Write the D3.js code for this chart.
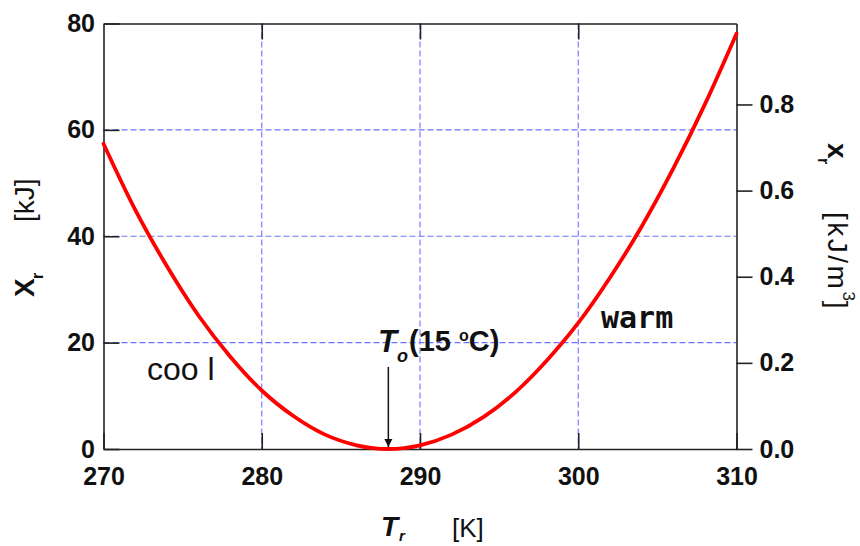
<!DOCTYPE html>
<html>
<head>
<meta charset="utf-8">
<script src="https://cdn.jsdelivr.net/npm/d3@7/dist/d3.min.js"></script>
<style>
  html, body { margin: 0; padding: 0; background: #fff; }
  svg { display: block; }
  .tick text { font-family: "Liberation Sans", Arial, sans-serif; font-weight: bold; font-size: 25px; fill: #111; }
  .axis path, .axis line { stroke: #222; stroke-width: 1.6; }
</style>
</head>
<body>
<svg id="chart" width="860" height="546"></svg>
<script>
// Exergy of room air vs. room temperature (dead state T0 = 288 K)
const temperatureK = [270, 272, 274, 276, 278, 280, 282, 284, 286, 288, 290,
                      292, 294, 296, 298, 300, 302, 304, 306, 308, 310];
const exergyKJ     = [57.4, 45.0, 34.4, 25.1, 17.4, 11.0, 6.2, 2.7, 0.7, 0.0, 0.7,
                      2.7, 6.0, 10.6, 16.6, 23.7, 32.2, 41.8, 52.7, 64.8, 78.1];

const xTicks      = [270, 280, 290, 300, 310];
const yLeftTicks  = [0, 20, 40, 60, 80];
const yRightTicks = [0.0, 0.2, 0.4, 0.6, 0.8];
const gridX       = [280, 290, 300];
const gridY       = [20, 40, 60];
const deadStateK  = 288;

const svg = d3.select("#chart");
const L = 103.5, R = 736.5, T = 23.5, B = 449;

const x  = d3.scaleLinear().domain([270, 310]).range([L, R]);
const y  = d3.scaleLinear().domain([0, 80]).range([B, T]);
const yR = d3.scaleLinear().domain([0, 0.988]).range([B, T]);

// dashed grid
const grid = svg.append("g")
  .attr("stroke", "#7070ff").attr("stroke-width", 1.1)
  .attr("stroke-dasharray", "6,3").attr("fill", "none");
grid.selectAll("line.h").data(gridY).join("line").attr("class", "h")
  .attr("x1", L).attr("x2", R).attr("y1", d => y(d)).attr("y2", d => y(d));
grid.selectAll("line.v").data(gridX).join("line").attr("class", "v")
  .attr("x1", d => x(d)).attr("x2", d => x(d)).attr("y1", T).attr("y2", B);

// axes (frame)
svg.append("g").attr("class", "axis")
  .attr("transform", `translate(0,${B})`)
  .call(d3.axisBottom(x).tickValues(xTicks).tickSize(-16).tickSizeOuter(0).tickPadding(18).tickFormat(d3.format("d")));
svg.append("g").attr("class", "axis")
  .attr("transform", `translate(0,${T})`)
  .call(d3.axisTop(x).tickValues(gridX).tickSize(-16).tickSizeOuter(0).tickFormat(""));
svg.append("g").attr("class", "axis")
  .attr("transform", `translate(${L},0)`)
  .call(d3.axisLeft(y).tickValues(yLeftTicks).tickSize(-16).tickSizeOuter(0).tickPadding(8.5));
svg.append("g").attr("class", "axis")
  .attr("transform", `translate(${R},0)`)
  .call(d3.axisRight(yR).tickValues(yRightTicks).tickSize(16).tickSizeOuter(0).tickPadding(7).tickFormat(d3.format(".1f")));

// exergy curve
const line = d3.line()
  .x((d, i) => x(temperatureK[i]))
  .y(d => y(d))
  .curve(d3.curveMonotoneX);
svg.append("path")
  .datum(exergyKJ)
  .attr("d", line)
  .attr("fill", "none")
  .attr("stroke", "#ff0000")
  .attr("stroke-width", 3.8)
  .attr("stroke-linecap", "round");

// arrow to the dead state
svg.append("defs").append("marker")
  .attr("id", "arrowhead").attr("viewBox", "0 0 10 10")
  .attr("refX", 10).attr("refY", 5)
  .attr("markerWidth", 8).attr("markerHeight", 14)
  .attr("markerUnits", "userSpaceOnUse")
  .attr("orient", "auto")
  .append("path").attr("d", "M0,0 L10,5 L0,10 Z").attr("fill", "#111");
svg.append("line")
  .attr("x1", x(deadStateK)).attr("x2", x(deadStateK))
  .attr("y1", 367).attr("y2", y(0) - 2)
  .attr("stroke", "#111").attr("stroke-width", 1.5)
  .attr("marker-end", "url(#arrowhead)");

const font = '"Liberation Sans", Arial, sans-serif';

// T0 (15 °C) annotation
const ann = svg.append("text").attr("font-family", font).attr("fill", "#111");
ann.append("tspan").attr("x", 378).attr("y", 352)
  .attr("font-size", 31).attr("font-style", "italic").attr("font-weight", "bold").text("T");
ann.append("tspan").attr("x", 397).attr("y", 362)
  .attr("font-size", 18).attr("font-style", "italic").attr("font-weight", "bold").text("o");
const ann2 = svg.append("text").attr("font-family", font).attr("fill", "#111")
  .attr("font-size", 29).attr("font-weight", "bold").attr("x", 409).attr("y", 351);
ann2.append("tspan").text("(15 ");
ann2.append("tspan").attr("font-size", 16).attr("dy", -10).text("o");
ann2.append("tspan").attr("dy", 10).text("C)");

// region labels
svg.append("text").attr("x", 147).attr("y", 380)
  .attr("font-family", font).attr("font-size", 32).attr("fill", "#111")
  .text("coo l");
svg.append("text").attr("x", 601).attr("y", 328)
  .attr("font-family", '"DejaVu Sans Mono", "Liberation Mono", monospace')
  .attr("font-size", 30).attr("font-weight", "bold").attr("fill", "#111")
  .text("warm");

// x-axis title
const xt = svg.append("g").attr("font-family", font).attr("fill", "#111");
xt.append("text").attr("x", 381).attr("y", 536)
  .attr("font-size", 28).attr("font-style", "italic").attr("font-weight", "bold").text("T");
xt.append("text").attr("x", 399).attr("y", 541)
  .attr("font-size", 15).attr("font-style", "italic").attr("font-weight", "bold").text("r");
xt.append("text").attr("x", 452).attr("y", 537)
  .attr("font-size", 26).text("[K]");

// left y-axis title
const yl = svg.append("g").attr("transform", "translate(34,0) rotate(-90)")
  .attr("font-family", font).attr("fill", "#111");
yl.append("text").attr("x", -297).attr("y", 0)
  .attr("font-size", 28).attr("font-weight", "bold").text("X");
yl.append("text").attr("x", -279).attr("y", 9)
  .attr("font-size", 16).attr("font-weight", "bold").text("r");
yl.append("text").attr("x", -222).attr("y", 0)
  .attr("font-size", 28).text("[kJ]");

// right y-axis title
const yr = svg.append("g").attr("transform", "translate(828,0) rotate(90)")
  .attr("font-family", font).attr("fill", "#111");
yr.append("text").attr("x", 143).attr("y", 0)
  .attr("font-size", 28).attr("font-weight", "bold").text("x");
yr.append("text").attr("x", 158).attr("y", 10)
  .attr("font-size", 16).attr("font-weight", "bold").text("r");
const unit = yr.append("text").attr("x", 212).attr("y", 0)
  .attr("font-size", 28).attr("letter-spacing", 2.5);
unit.append("tspan").text("[kJ/m");
unit.append("tspan").attr("font-size", 17).attr("dy", -15).attr("letter-spacing", 0).text("3");
unit.append("tspan").attr("dy", 15).text("]");
</script>
</body>
</html>
